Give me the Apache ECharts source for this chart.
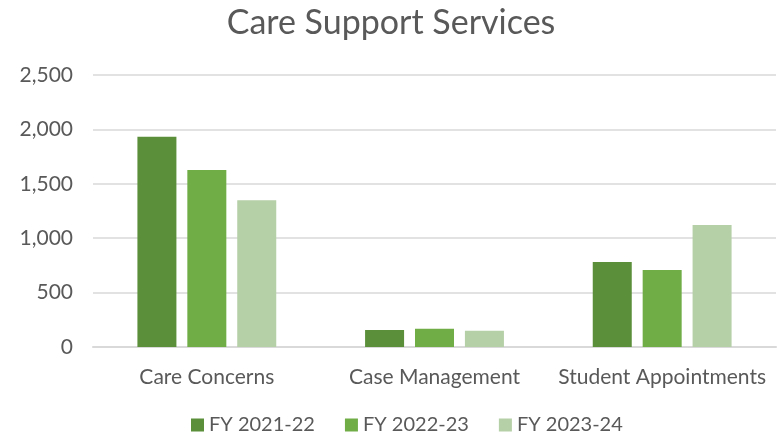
<!DOCTYPE html>
<html>
<head>
<meta charset="utf-8">
<script src="https://cdn.jsdelivr.net/npm/echarts@6/dist/echarts.min.js"></script>
<style>
	html, body { margin: 0; padding: 0; background: #fff; }
	#chart { width: 782px; height: 440px; }
</style>
</head>
<body>
<div id="chart"></div>
<script>
	// data
	var categories = ['Care Concerns', 'Case Management', 'Student Appointments'];
	var seriesNames = ['FY 2021-22', 'FY 2022-23', 'FY 2023-24'];
	var fy2122 = [1933, 156, 781];
	var fy2223 = [1627, 168, 708];
	var fy2324 = [1348, 150, 1121];
	var colors = ['#5B8F3A', '#70AD47', '#B5CFA6'];

	var font = 'Lato, "Open Sans", sans-serif';
	var textColor = '#595959';

	var chart = echarts.init(document.getElementById('chart'));

	function bar(name, data, i) {
		return {
			name: name,
			type: 'bar',
			data: data,
			barWidth: 39,
			barGap: '28%',
			itemStyle: { color: colors[i] }
		};
	}

	var option = {
		animation: false,
		title: {
			text: 'Care Support Services',
			left: 'center',
			top: 1,
			textStyle: { fontFamily: font, fontSize: 34, fontWeight: 'normal', color: textColor }
		},
		legend: {
			bottom: 0,
			left: 186,
			itemWidth: 13,
			itemHeight: 13,
			itemGap: 30,
			icon: 'rect',
			textStyle: { fontFamily: font, fontSize: 20, color: textColor }
		},
		grid: { left: 93, right: 6, top: 75, bottom: 93 },
		xAxis: {
			type: 'category',
			data: categories,
			axisTick: { show: false },
			axisLine: { lineStyle: { color: '#D9D9D9', width: 2 } },
			axisLabel: { fontFamily: font, fontSize: 21, color: textColor, margin: 20, interval: 0 }
		},
		yAxis: {
			type: 'value',
			min: 0,
			max: 2500,
			interval: 500,
			axisLine: { show: false },
			axisTick: { show: false },
			splitLine: { lineStyle: { color: '#D9D9D9', width: 1.5 } },
			axisLabel: {
				fontFamily: font, fontSize: 21, color: textColor, margin: 20,
				formatter: function (v) { return v.toLocaleString('en-US'); }
			}
		},
		series: [
			bar(seriesNames[0], fy2122, 0),
			bar(seriesNames[1], fy2223, 1),
			bar(seriesNames[2], fy2324, 2)
		]
	};

	chart.setOption(option);
</script>
</body>
</html>
